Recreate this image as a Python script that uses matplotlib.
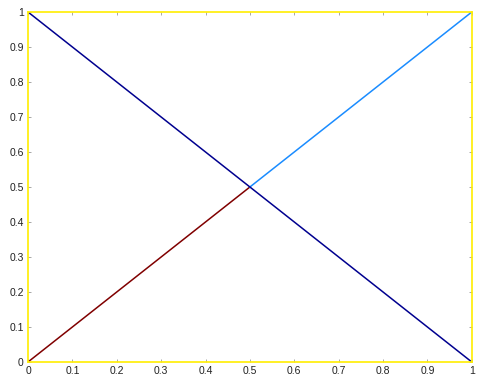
import matplotlib
matplotlib.use('Agg')
import matplotlib.pyplot as plt
import numpy as np

# segment endpoints
red_x = [0, 0.5]
red_y = [0, 0.5]
cyan_x = [0.5, 1]
cyan_y = [0.5, 1]
blue_x = [0, 1]
blue_y = [1, 0]
ticks = [0, 0.1, 0.2, 0.3, 0.4, 0.5, 0.6, 0.7, 0.8, 0.9, 1]
tick_labels = ['0', '0.1', '0.2', '0.3', '0.4', '0.5', '0.6', '0.7', '0.8', '0.9', '1']

plt.rcParams['font.family'] = ['Liberation Sans', 'DejaVu Sans']

fig = plt.figure(figsize=(4.78, 3.81), dpi=100)
ax = fig.add_axes([0.0586, 0.0499, 0.9284, 0.9186])

ax.plot(red_x, red_y, color='#800000', lw=1.1)
ax.plot(cyan_x, cyan_y, color='#1a8cff', lw=1.1)
ax.plot(blue_x, blue_y, color='#00008f', lw=1.1)

ax.set_xlim(0, 1)
ax.set_ylim(0, 1)
ax.set_xticks(ticks)
ax.set_xticklabels(tick_labels)
ax.set_yticks(ticks)
ax.set_yticklabels(tick_labels)
ax.tick_params(direction='in', length=2, width=0.6, color='#999999',
               labelsize=7.5, labelcolor='#222222', pad=3,
               top=True, right=True)
for s in ax.spines.values():
    s.set_color('#ffee00')
    s.set_linewidth(1.2)

fig.savefig('out.png', dpi=100)
